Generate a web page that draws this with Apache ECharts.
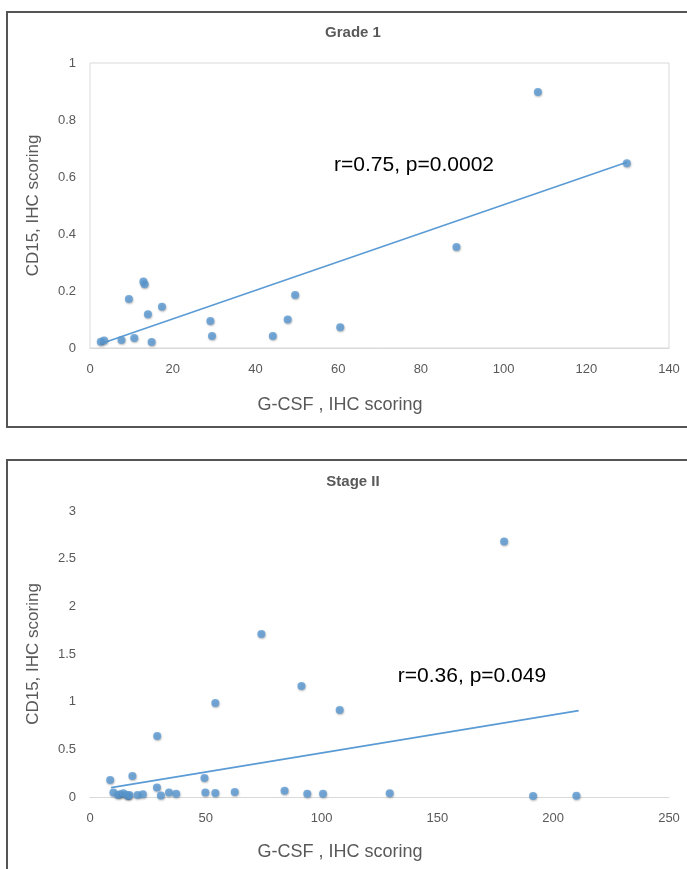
<!DOCTYPE html>
<html>
<head>
<meta charset="utf-8">
<script src="https://cdn.jsdelivr.net/npm/echarts@6/dist/echarts.min.js"></script>
<style>
html,body{margin:0;padding:0;background:#fff;}
#chart{width:687px;height:869px;}
</style>
</head>
<body>
<div id="chart"></div>
<script>
// Grade 1 panel
const grade1X = [2.6, 3.4, 7.6, 10.7, 14.9, 9.4, 12.9, 13.2, 14.0, 17.4, 29.1, 29.5, 44.2, 47.8, 49.6, 60.5, 88.6, 108.3, 129.8];
const grade1Y = [0.022, 0.026, 0.028, 0.035, 0.021, 0.172, 0.233, 0.224, 0.118, 0.145, 0.095, 0.042, 0.042, 0.10, 0.186, 0.073, 0.354, 0.898, 0.648];
const grade1TrendX = [2.6, 129.8];
const grade1TrendY = [0.015, 0.652];
const grade1Note = "r=0.75, p=0.0002";

// Stage II panel
const stage2X = [178.8, 74.0, 91.3, 54.1, 107.8, 29.0, 8.7, 18.3, 49.4, 28.9, 10.1, 12.0, 13.0, 14.4, 15.9, 16.5, 17.0, 20.5, 22.8, 30.6, 34.1, 37.2, 49.8, 54.1, 62.5, 84.0, 93.8, 100.6, 129.4, 191.3, 210.0];
const stage2Y = [2.68, 1.71, 1.165, 0.986, 0.913, 0.64, 0.178, 0.22, 0.20, 0.10, 0.046, 0.02, 0.028, 0.039, 0.021, 0.01, 0.021, 0.021, 0.028, 0.017, 0.046, 0.035, 0.046, 0.042, 0.052, 0.066, 0.035, 0.035, 0.04, 0.01, 0.013];
const stage2TrendX = [9.1, 211.0];
const stage2TrendY = [0.098, 0.906];
const stage2Note = "r=0.36, p=0.049";

const titles = ["Grade 1", "Stage II"];
const xTitle = "G-CSF , IHC scoring";
const yTitle = "CD15, IHC scoring";

const pts = (xs, ys) => xs.map((x, i) => [x, ys[i]]);

const grey = '#595959';
const blue = '#5b9bd5';
const font = 'Liberation Sans, Arial, sans-serif';

function xAxisCfg(idx, max, interval) {
  return {
    gridIndex: idx, type: 'value', min: 0, max: max, interval: interval,
    axisLine: {show: true, lineStyle: {color: '#d9d9d9', width: 1}},
    axisTick: {show: false},
    splitLine: {show: false},
    axisLabel: {color: grey, fontSize: 13, fontFamily: font, margin: 15}
  };
}
function yAxisCfg(idx, max, interval) {
  return {
    gridIndex: idx, type: 'value', min: 0, max: max, interval: interval,
    name: yTitle, nameLocation: 'middle', nameGap: 48,
    nameTextStyle: {color: grey, fontSize: 17, fontFamily: font},
    axisLine: {show: false}, axisTick: {show: false},
    splitLine: {show: false},
    axisLabel: {color: grey, fontSize: 13, fontFamily: font, margin: 14}
  };
}
const scatterStyle = {
  color: blue,
  shadowColor: 'rgba(0,0,0,0.35)', shadowBlur: 2, shadowOffsetX: 0.5, shadowOffsetY: 1
};
function centerText(text, x, y, size, weight, color) {
  return {type: 'text', x: x, y: y,
    style: {text: text, fill: color, font: (weight ? weight + ' ' : '') + size + 'px ' + font, textAlign: 'center', textVerticalAlign: 'middle'}};
}

const chart = echarts.init(document.getElementById('chart'), null, {renderer: 'canvas'});
chart.setOption({
  backgroundColor: '#fff',
  animation: false,
  graphic: [
    {type: 'rect', shape: {x: 7, y: 12, width: 700, height: 415}, style: {fill: 'none', stroke: '#555', lineWidth: 2}, z: -1},
    {type: 'rect', shape: {x: 7, y: 460, width: 700, height: 430}, style: {fill: 'none', stroke: '#555', lineWidth: 2}, z: -1},
    centerText(titles[0], 353, 33, 15, 'bold', grey),
    centerText(titles[1], 353, 482, 15, 'bold', grey),
    centerText(xTitle, 340, 405, 18, '', grey),
    centerText(xTitle, 340, 852, 18, '', grey),
    centerText(grade1Note, 414, 165, 21, '', '#000'),
    centerText(stage2Note, 472, 676, 21, '', '#000')
  ],
  grid: [
    {left: 90, right: 18, top: 63, height: 285, show: true, borderColor: '#d9d9d9', borderWidth: 1, backgroundColor: 'transparent'},
    {left: 90, right: 18, top: 511, height: 286}
  ],
  xAxis: [xAxisCfg(0, 140, 20), xAxisCfg(1, 250, 50)],
  yAxis: [yAxisCfg(0, 1, 0.2), yAxisCfg(1, 3, 0.5)],
  series: [
    {type: 'line', xAxisIndex: 0, yAxisIndex: 0, data: pts(grade1TrendX, grade1TrendY), showSymbol: false, lineStyle: {color: blue, width: 1.6}, z: 2},
    {type: 'scatter', xAxisIndex: 0, yAxisIndex: 0, data: pts(grade1X, grade1Y), symbolSize: 8, itemStyle: scatterStyle, z: 3},
    {type: 'line', xAxisIndex: 1, yAxisIndex: 1, data: pts(stage2TrendX, stage2TrendY), showSymbol: false, lineStyle: {color: blue, width: 1.6}, z: 2},
    {type: 'scatter', xAxisIndex: 1, yAxisIndex: 1, data: pts(stage2X, stage2Y), symbolSize: 8, itemStyle: scatterStyle, z: 3}
  ]
});
</script>
</body>
</html>
